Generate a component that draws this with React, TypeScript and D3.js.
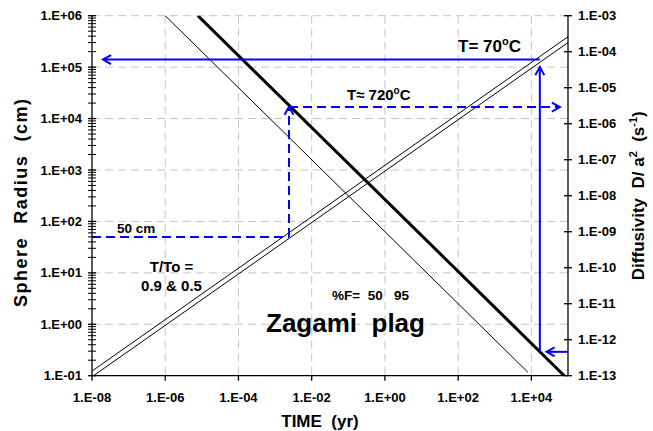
import React from "react";
import * as d3 from "d3";

// ---- data ----
const xTicks = [1e-8, 1e-6, 1e-4, 1e-2, 1e0, 1e2, 1e4];
const xTickLabels = ["1.E-08", "1.E-06", "1.E-04", "1.E-02", "1.E+00", "1.E+02", "1.E+04"];
const leftTicks = [1e-1, 1e0, 1e1, 1e2, 1e3, 1e4, 1e5, 1e6];
const leftTickLabels = ["1.E-01", "1.E+00", "1.E+01", "1.E+02", "1.E+03", "1.E+04", "1.E+05", "1.E+06"];
const rightTicks = [1e-13, 1e-12, 1e-11, 1e-10, 1e-9, 1e-8, 1e-7, 1e-6, 1e-5, 1e-4, 1e-3];
const rightTickLabels = ["1.E-13", "1.E-12", "1.E-11", "1.E-10", "1.E-09", "1.E-08", "1.E-07", "1.E-06", "1.E-05", "1.E-04", "1.E-03"];

// falling lines: D/a^2 (right axis) vs time, %F = 50 (thin), 95 (thick)
const fallF50: [number, number][] = [[1e-6, 1e-3], [8e3, 1.25e-13]];
const fallF95: [number, number][] = [[7.8e-6, 1e-3], [7.9e4, 1e-13]];
// rising lines: sphere radius (left axis) vs time, T/To = 0.9 & 0.5
const riseA: [number, number][] = [[1e-8, 0.123], [1e5, 3.9e5]];
const riseB: [number, number][] = [[1.1e-8, 0.1], [1e5, 3.0e5]];

// blue arrows: [time, value, axis]
type P = [number, number, "L" | "R"];
const solidArrows: P[][] = [
  [[1.7e4, 1.4e5, "L"], [2.0e-8, 1.4e5, "L"]],
  [[1.7e4, 4.6e-13, "R"], [1.7e4, 1.0e5, "L"]],
  [[1e5, 4.6e-13, "R"], [2.6e4, 4.6e-13, "R"]],
];
const dashedLines: P[][] = [[[1e-8, 50, "L"], [2.4e-3, 50, "L"]]];
const dashedArrows: P[][] = [
  [[2.4e-3, 50, "L"], [2.4e-3, 1.7e4, "L"]],
  [[2.4e-3, 2.9e-6, "R"], [6e4, 2.9e-6, "R"]],
];

const W = 653, H = 431;
const L = 92, R = 568, T = 15.7, B = 375.7;
const FONT = "'Liberation Sans', Arial, sans-serif";
const BLUE = "#0000ff";
const GRID = "#c4c4c4";

export default function App() {
  const x = d3.scaleLog().domain([1e-8, 1e5]).range([L, R]);
  const yL = d3.scaleLog().domain([1e-1, 1e6]).range([B, T]);
  const yR = d3.scaleLog().domain([1e-13, 1e-3]).range([B, T]);
  const lineL = d3.line<[number, number]>().x((d) => x(d[0])).y((d) => yL(d[1]));
  const lineR = d3.line<[number, number]>().x((d) => x(d[0])).y((d) => yR(d[1]));
  const pt = (p: P): [number, number] => [x(p[0]), p[2] === "L" ? yL(p[1]) : yR(p[1])];

  const minor: number[] = [];
  for (let e = -1; e < 6; e++) for (let k = 2; k <= 9; k++) minor.push(k * Math.pow(10, e));

  const head = (a: [number, number], b: [number, number]) => {
    const ang = Math.atan2(b[1] - a[1], b[0] - a[0]);
    const len = 8, hw = 4.5;
    const bx = b[0] - len * Math.cos(ang), by = b[1] - len * Math.sin(ang);
    const px = -Math.sin(ang) * hw, py = Math.cos(ang) * hw;
    return `M${bx + px},${by + py}L${b[0]},${b[1]}L${bx - px},${by - py}`;
  };

  const arrowEl = (arr: P[], i: number, dashed: boolean, withHead: boolean) => {
    const a = pt(arr[0]), b = pt(arr[1]);
    return (
      <g key={(dashed ? "d" : "s") + i + (withHead ? "h" : "")}>
        <line x1={a[0]} y1={a[1]} x2={b[0]} y2={b[1]} stroke={BLUE} strokeWidth={2}
          strokeDasharray={dashed ? "9,5" : undefined} />
        {withHead && <path d={head(a, b)} fill="none" stroke={BLUE} strokeWidth={2} />}
      </g>
    );
  };

  return (
    <svg width={W} height={H} style={{ position: "absolute", left: 0, top: 0, background: "#fff" }}
      fontFamily={FONT} fontWeight="bold">
      <defs>
        <clipPath id="plot"><rect x={L} y={T} width={R - L} height={B - T} /></clipPath>
      </defs>
      {/* grid */}
      {leftTicks.slice(1).map((v) => (
        <line key={"gh" + v} x1={L} x2={R} y1={yL(v)} y2={yL(v)} stroke={GRID} strokeDasharray="8,5" />
      ))}
      {xTicks.slice(1).map((v) => (
        <line key={"gv" + v} x1={x(v)} x2={x(v)} y1={T} y2={B} stroke={GRID} strokeDasharray="8,5" />
      ))}
      {/* curves */}
      <g clipPath="url(#plot)" fill="none" stroke="#000">
        <path d={lineR(fallF50)!} strokeWidth={1} />
        <path d={lineR(fallF95)!} strokeWidth={3} />
        <path d={lineL(riseA)!} strokeWidth={1} />
        <path d={lineL(riseB)!} strokeWidth={1} />
      </g>
      {/* blue arrows */}
      {solidArrows.map((a, i) => arrowEl(a, i, false, true))}
      {dashedLines.map((a, i) => arrowEl(a, i, true, false))}
      {dashedArrows.map((a, i) => arrowEl(a, i, true, true))}
      {/* axes */}
      <g stroke="#000" strokeWidth={1.3}>
        <line x1={L} x2={L} y1={T} y2={B} />
        <line x1={R} x2={R} y1={T} y2={B} />
        <line x1={L} x2={R} y1={B} y2={B} />
        {leftTicks.map((v) => <line key={"lt" + v} x1={L - 4} x2={L + 4} y1={yL(v)} y2={yL(v)} />)}
        {minor.map((v) => <line key={"lm" + v} x1={L - 4} x2={L + 4} y1={yL(v)} y2={yL(v)} strokeWidth={1} />)}
        {rightTicks.map((v) => <line key={"rt" + v} x1={R - 4} x2={R + 4} y1={yR(v)} y2={yR(v)} />)}
        {xTicks.map((v) => <line key={"xt" + v} x1={x(v)} x2={x(v)} y1={B} y2={B + 5} />)}
      </g>
      {/* tick labels */}
      <g fontSize={13} fill="#000">
        {leftTicks.map((v, i) => (
          <text key={"ll" + v} x={82} y={yL(v) + 4.6} textAnchor="end">{leftTickLabels[i]}</text>
        ))}
        {rightTicks.map((v, i) => (
          <text key={"rl" + v} x={578} y={yR(v) + 4.6}>{rightTickLabels[i]}</text>
        ))}
        {xTicks.map((v, i) => (
          <text key={"xl" + v} x={x(v)} y={401.7} textAnchor="middle">{xTickLabels[i]}</text>
        ))}
      </g>
      {/* axis titles */}
      <text x={320} y={427} textAnchor="middle" fontSize={17}>TIME{"\u00a0\u00a0"}(yr)</text>
      <text transform={`translate(26.5,203) rotate(-90)`} textAnchor="middle" fontSize={18}
        textLength={208} lengthAdjust="spacing">
        Sphere{"\u00a0\u00a0"}Radius{"\u00a0\u00a0"}(cm)
      </text>
      <text transform={`translate(644,${(T + B) / 2}) rotate(-90)`} textAnchor="middle" fontSize={17}>
        Diffusivity{"\u00a0\u00a0"}D/ a<tspan dy={-7} fontSize={11}>2</tspan>
        <tspan dy={7}>{"\u00a0\u00a0"}(s</tspan><tspan dy={-7} fontSize={11}>-1</tspan><tspan dy={7}>)</tspan>
      </text>
      {/* annotations */}
      <text x={458} y={51.7} fontSize={17}>
        T= 70<tspan dy={-7} fontSize={11}>o</tspan><tspan dy={7}>C</tspan>
      </text>
      <text x={347} y={100} fontSize={15}>
        T≈ 720<tspan dy={-6} fontSize={10}>o</tspan><tspan dy={6}>C</tspan>
      </text>
      <text x={117} y={232.7} fontSize={13.5}>50 cm</text>
      <text x={171.5} y={272.3} textAnchor="middle" fontSize={15}>T/To =</text>
      <text x={171.5} y={291} textAnchor="middle" fontSize={15}>0.9 &amp; 0.5</text>
      <text x={332} y={300} fontSize={13.5}>%F={"\u00a0\u00a0"}50{"\u00a0\u00a0\u00a0"}95</text>
      <text x={345.5} y={332.3} textAnchor="middle" fontSize={26}>Zagami{"\u00a0\u00a0"}plag</text>
    </svg>
  );
}
